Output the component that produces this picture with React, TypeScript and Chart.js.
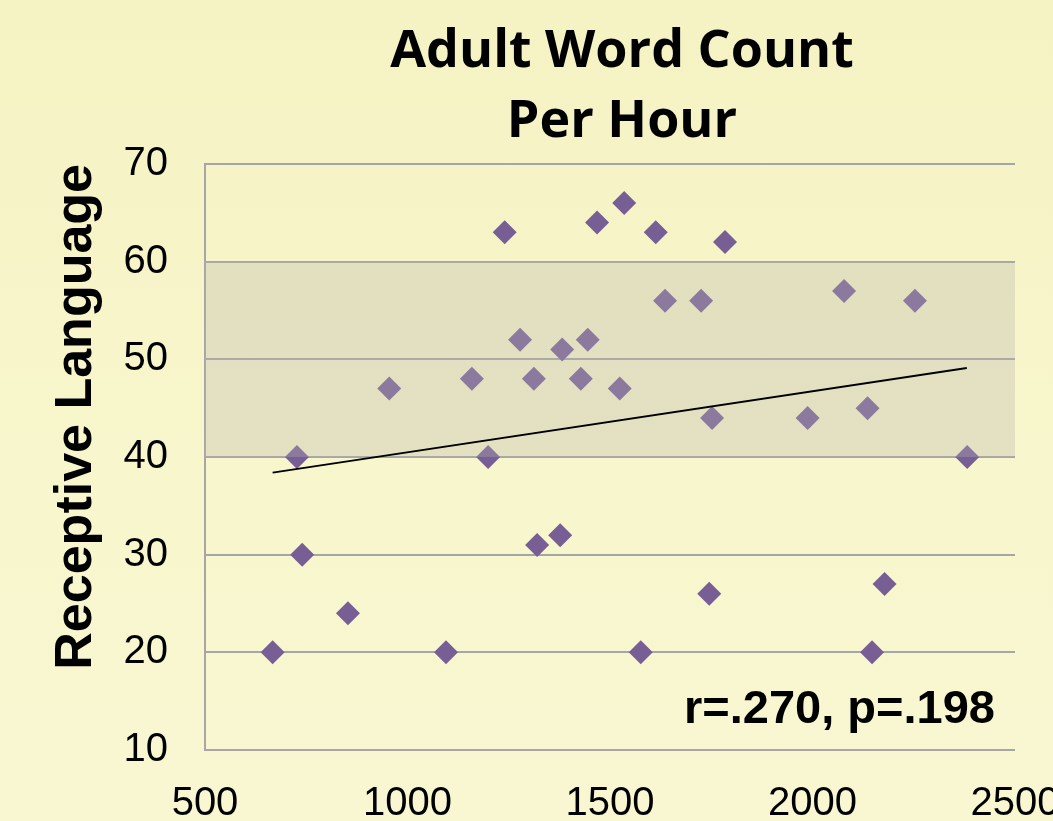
import React, { useEffect, useRef } from "react";
import { Chart, registerables } from "chart.js";

Chart.register(...registerables);

// ---- data ----
const wordCount: number[] = [
  667, 727, 740, 853, 955, 1095, 1159, 1199, 1240, 1278, 1312, 1320, 1377, 1382, 1428, 1445,
  1468, 1524, 1535, 1576, 1613, 1636, 1725, 1745, 1752, 1784, 1988, 2078, 2136, 2147, 2178,
  2253, 2382,
];
const receptive: number[] = [
  20, 40, 30, 24, 47, 20, 48, 40, 63, 52, 48, 31, 32, 51, 48, 52,
  64, 47, 66, 20, 63, 56, 56, 26, 44, 62, 44, 57, 45, 20, 27,
  56, 40,
];
const trendX: number[] = [667, 2381];
const trendY: number[] = [38.4, 49.1];
const bandRange: number[] = [40, 60];
const xTicks: number[] = [500, 1000, 1500, 2000, 2500];
const yTicks: number[] = [10, 20, 30, 40, 50, 60, 70];
const titleLines: string[] = ["Adult Word Count", "Per Hour"];
const yTitle = "Receptive Language";
const statText = "r=.270, p=.198";

const ARIAL = "'Liberation Sans', Arial, sans-serif";
const W = 1244;
const H = 900;

export default function App() {
  const ref = useRef<HTMLCanvasElement>(null);

  useEffect(() => {
    document.body.style.margin = "0";
    document.body.style.overflow = "hidden";
    const canvas = ref.current;
    if (!canvas) return;

    const bandPlugin = {
      id: "band",
      afterDatasetDraw(chart: any, args: any) {
        if (args.index !== 1) return;
        const { ctx, chartArea, scales } = chart;
        const yTop = scales.y.getPixelForValue(bandRange[1]);
        const yBot = scales.y.getPixelForValue(bandRange[0]);
        ctx.save();
        ctx.fillStyle = "rgba(182,180,175,0.32)";
        ctx.fillRect(chartArea.left, yTop, chartArea.right - chartArea.left, yBot - yTop);
        ctx.restore();
      },
    };

    const statPlugin = {
      id: "stat",
      afterDraw(chart: any) {
        const { ctx, chartArea } = chart;
        ctx.save();
        ctx.font = `bold 47px ${ARIAL}`;
        ctx.fillStyle = "#000";
        ctx.textAlign = "right";
        ctx.textBaseline = "alphabetic";
        ctx.fillText(statText, chartArea.right - 20, chartArea.bottom - 27);
        ctx.restore();
      },
    };

    const chart = new Chart(canvas, {
      type: "scatter",
      data: {
        datasets: [
          {
            type: "line",
            label: "Trend",
            data: trendX.map((x, i) => ({ x, y: trendY[i] })),
            borderColor: "#000",
            borderWidth: 2,
            pointRadius: 0,
            fill: false,
          },
          {
            label: "Receptive Language",
            data: wordCount.map((x, i) => ({ x, y: receptive[i] })),
            backgroundColor: "#775f96",
            borderWidth: 0,
            pointStyle: "rectRot",
            pointRadius: 12,
            pointHoverRadius: 12,
          },
        ],
      } as any,
      options: {
        responsive: false,
        animation: false,
        layout: { padding: 0 },
        plugins: {
          legend: { display: false },
          tooltip: { enabled: false },
          title: {
            display: true,
            text: titleLines,
            color: "#000",
            font: { family: "'Open Sans', sans-serif", size: 52, weight: "bold", lineHeight: 1.346 },
            padding: { top: 17, bottom: 7 },
          },
        },
        scales: {
          x: {
            type: "linear",
            min: xTicks[0],
            max: xTicks[xTicks.length - 1],
            afterBuildTicks: (s: any) => {
              s.ticks = xTicks.map((v) => ({ value: v }));
            },
            afterFit: (s: any) => {
              s.height = H - 750;
            },
            grid: { display: false, drawTicks: false },
            border: { display: false },
            ticks: {
              color: "#000",
              font: { family: ARIAL, size: 40 },
              padding: 30,
              maxRotation: 0,
              autoSkip: false,
              callback: (v: any) => String(v),
            },
          },
          y: {
            type: "linear",
            position: "left",
            min: yTicks[0],
            max: yTicks[yTicks.length - 1],
            afterBuildTicks: (s: any) => {
              s.ticks = yTicks.map((v) => ({ value: v }));
            },
            afterFit: (s: any) => {
              s.width = 205;
            },
            grid: { color: "#a6a6a6", lineWidth: 2, drawTicks: false },
            border: { display: true, color: "#a6a6a6", width: 2 },
            ticks: {
              color: "#000",
              font: { family: ARIAL, size: 40 },
              padding: 37,
              autoSkip: false,
              callback: (v: any) => String(v),
            },
            title: {
              display: true,
              text: yTitle,
              color: "#000",
              align: "end",
              font: { family: ARIAL, size: 52, weight: "bold" },
              padding: { top: 45, bottom: 0 },
            },
          },
          yR: {
            type: "linear",
            axis: "y",
            position: "right",
            display: true,
            grid: { display: false, drawTicks: false },
            border: { display: false },
            ticks: { display: false },
            afterFit: (s: any) => {
              s.width = W - 1015;
            },
          },
        },
      } as any,
      plugins: [bandPlugin, statPlugin],
    });

    return () => chart.destroy();
  }, []);

  return (
    <div
      style={{
        position: "fixed",
        left: 0,
        top: 0,
        width: 1053,
        height: 821,
        overflow: "hidden",
        background: "linear-gradient(180deg, #f5f3c3 0%, #f8f6cc 60%, #f9f7d2 100%)",
      }}
    >
      <canvas ref={ref} width={W} height={H} style={{ display: "block", width: W, height: H }} />
    </div>
  );
}
